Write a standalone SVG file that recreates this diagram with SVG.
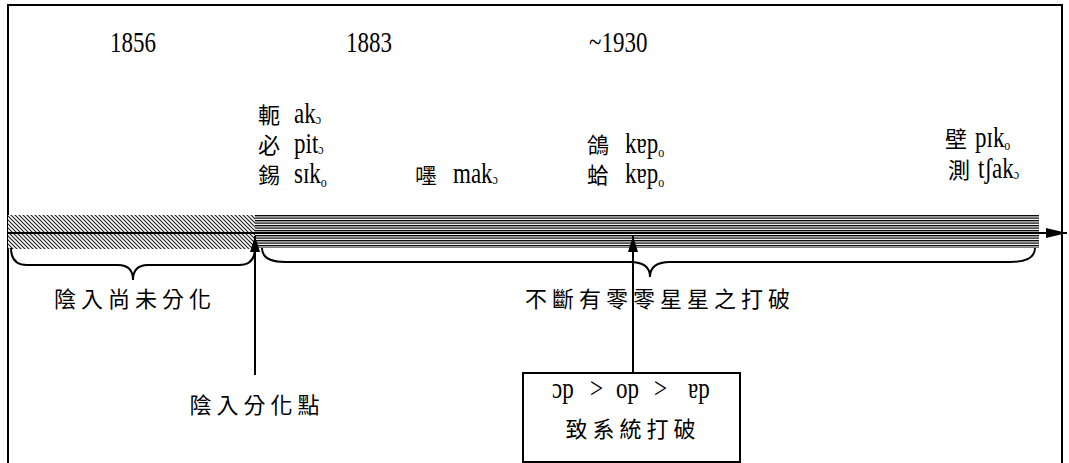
<svg xmlns="http://www.w3.org/2000/svg" width="1069" height="463" viewBox="0 0 1069 463">
<style>
.lat{font-family:"Liberation Serif","Times New Roman",serif;font-size:23px;fill:#000}
.cjk{font-family:"Noto Sans CJK TC","Noto Sans CJK SC",sans-serif;font-size:22px;fill:#000}
.lbl{font-family:"Noto Sans CJK TC","Noto Sans CJK SC",sans-serif;font-size:22px;fill:#000;letter-spacing:5px}
.sub{font-size:12px}
.ln{fill:none;stroke:#000;stroke-width:2}
.br{fill:none;stroke:#000;stroke-width:2}
</style>
<defs>
<pattern id="hatch" patternUnits="userSpaceOnUse" width="4" height="4">
<rect width="4" height="4" fill="#fff"/>
<path d="M0,0 L4,4 M-1,3 L1,5 M3,-1 L5,1" stroke="#222" stroke-width="1.2"/>
</pattern>
<pattern id="stripe" patternUnits="userSpaceOnUse" width="10" height="2.5" y="215">
<rect width="10" height="2.5" fill="#fff"/>
<rect width="10" height="1.3" fill="#000"/>
</pattern>
<marker id="ah" viewBox="0 0 16 10" markerWidth="16" markerHeight="10" refX="16" refY="5" orient="auto" markerUnits="userSpaceOnUse">
<path d="M0,0 L16,5 L0,10 z" fill="#000"/>
</marker>
<marker id="ahBig" viewBox="0 0 21 10" markerWidth="21" markerHeight="10" refX="21" refY="5" orient="auto" markerUnits="userSpaceOnUse">
<path d="M0,0 L21,5 L0,10 z" fill="#000"/>
</marker>
</defs>
<rect width="1069" height="463" fill="#fff"/>
<g id="frame">
<path d="M8,470 L8,5 L1062,5 L1062,470" fill="none" stroke="#000" stroke-width="2"/>
</g>
<g id="band">
<rect x="8" y="215" width="247" height="34" fill="url(#hatch)"/>
<rect x="255" y="215" width="784" height="33" fill="url(#stripe)"/>
</g>
<g id="connectors">
<line class="ln" x1="8" y1="233" x2="1067" y2="233" marker-end="url(#ahBig)"/>
<line class="ln" x1="255" y1="375" x2="255" y2="236" marker-end="url(#ah)"/>
<line class="ln" x1="633" y1="373" x2="633" y2="236" marker-end="url(#ah)"/>
<path class="br" d="M11,248 Q11,265 27,265 L118,265 Q133,265 133,280 Q133,265 148,265 L239,265 Q255,265 255,248"/>
<path class="br" d="M262,248 Q262,262 285,262 L630,262 Q650,262 650,277 Q650,262 670,262 L1010,262 Q1035,262 1035,248"/>
</g>
<g id="year-1856"><text class="lat" transform="translate(110,52) scale(1,1.25)">1856</text></g>
<g id="year-1883"><text class="lat" transform="translate(346,52) scale(1,1.25)">1883</text></g>
<g id="year-1930"><text class="lat" transform="translate(589,52) scale(1,1.25)">~1930</text></g>
<g id="word-e">
<text class="cjk" x="258" y="123">軛</text>
<text class="lat" transform="translate(294,123) scale(1,1.25)">ak<tspan class="sub" dy="1">ɔ</tspan></text>
</g>
<g id="word-bit">
<text class="cjk" x="258" y="153">必</text>
<text class="lat" transform="translate(294,153) scale(1,1.25)">pit<tspan class="sub" dy="1">ɔ</tspan></text>
</g>
<g id="word-sik">
<text class="cjk" x="258" y="183">錫</text>
<text class="lat" transform="translate(294,183) scale(1,1.25)">sɪk<tspan class="sub" dy="3">o</tspan></text>
</g>
<g id="word-mak">
<text class="cjk" x="415" y="183">嚜</text>
<text class="lat" transform="translate(453,183) scale(1,1.25)">mak<tspan class="sub" dy="1">ɔ</tspan></text>
</g>
<g id="word-gap1">
<text class="cjk" x="587" y="153">鴿</text>
<text class="lat" transform="translate(625,153) scale(1,1.25)">kɐp<tspan class="sub" dy="3">o</tspan></text>
</g>
<g id="word-gap2">
<text class="cjk" x="587" y="183">蛤</text>
<text class="lat" transform="translate(625,183) scale(1,1.25)">kɐp<tspan class="sub" dy="3">o</tspan></text>
</g>
<g id="word-bik">
<text class="cjk" x="945" y="147">壁</text>
<text class="lat" transform="translate(975,147) scale(1,1.25)">pɪk<tspan class="sub" dy="2">o</tspan></text>
</g>
<g id="word-tsak">
<text class="cjk" x="948" y="178">測</text>
<text class="lat" transform="translate(978,178) scale(1,1.25)">tʃak<tspan class="sub" dy="1">ɔ</tspan></text>
</g>
<g id="label-undiff"><text class="lbl" x="135" y="307" text-anchor="middle">陰入尚未分化</text></g>
<g id="label-break"><text class="lbl" x="660" y="307" text-anchor="middle">不斷有零零星星之打破</text></g>
<g id="label-point"><text class="lbl" x="257" y="413" text-anchor="middle">陰入分化點</text></g>
<g id="box">
<rect x="523" y="373" width="217" height="89" fill="#fff" stroke="#000" stroke-width="2"/>
<text class="lat" transform="translate(0,398) scale(1,1.25)"><tspan x="552">ɔp</tspan><tspan x="590">&gt;</tspan><tspan x="616">op</tspan><tspan x="654">&gt;</tspan><tspan x="688">ɐp</tspan></text>
<text class="lbl" x="633" y="437" text-anchor="middle">致系統打破</text>
</g>
</svg>
